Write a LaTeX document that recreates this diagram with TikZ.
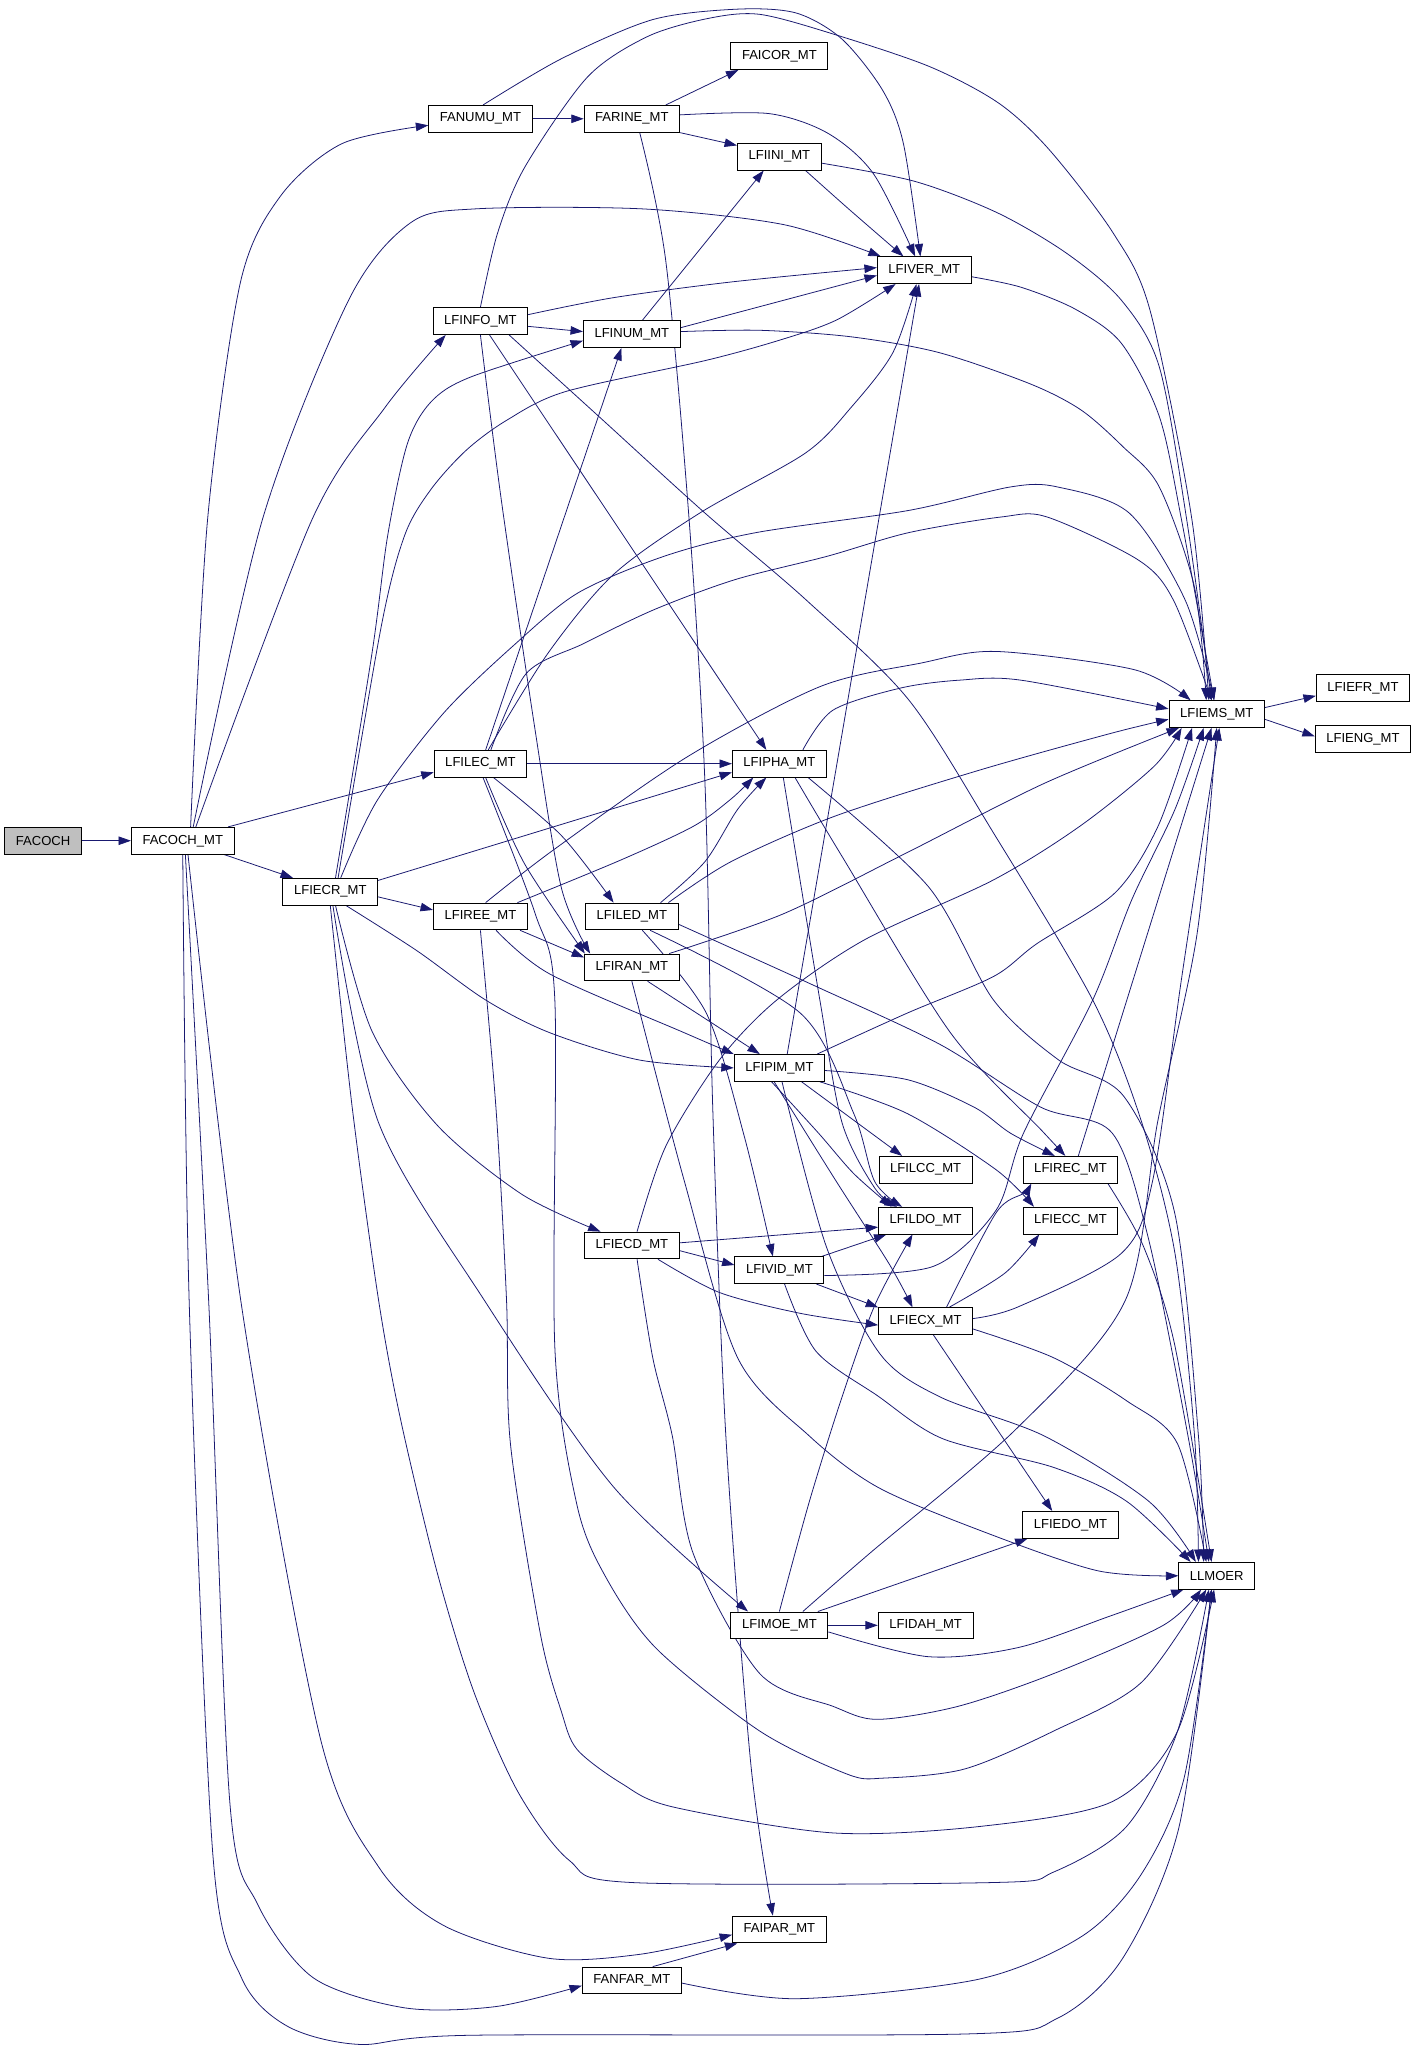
\documentclass[tikz,border=0pt]{standalone}
\usepackage{fontspec}
\setmainfont{Liberation Sans}
\usetikzlibrary{arrows.meta}
\definecolor{dblue}{RGB}{25,25,112}
\definecolor{gbox}{RGB}{191,191,191}
\pgfdeclarelayer{back}
\pgfdeclarelayer{bg}
\pgfsetlayers{back,bg,main}
\tikzset{
  box/.style={draw=black, fill=white, line width=0.7pt, minimum height=20.5pt, inner xsep=8.5pt, inner ysep=0pt, font=\fontsize{10}{12}\selectfont},
  edg/.style={draw=dblue, line width=0.6pt, -{Triangle[length=9.5pt,width=6.5pt]}},
}
\begin{document}
\begin{tikzpicture}[x=1pt,y=-1pt]
\begin{pgfonlayer}{back}
\fill[white] (0,0) rectangle (1087,1568);
\end{pgfonlayer}
\useasboundingbox (0,0) rectangle (1087,1568);
% nodes
\node[box,fill=gbox] (FACOCH) at (33,644) {FACOCH};
\node[box] (FACOCHMT) at (140,644) {FACOCH\_MT};
\node[box] (FANUMU) at (368,91) {FANUMU\_MT};
\node[box] (FARINE) at (484,91) {FARINE\_MT};
\node[box] (FAICOR) at (597,43) {FAICOR\_MT};
\node[box] (LFIINI) at (597,120) {LFIINI\_MT};
\node[box] (LFIVER) at (708,207) {LFIVER\_MT};
\node[box] (LFINFO) at (368,246) {LFINFO\_MT};
\node[box] (LFINUM) at (484,256) {LFINUM\_MT};
\node[box] (LFIEMS) at (932,547) {LFIEMS\_MT};
\node[box] (LFIEFR) at (1044,527) {LFIEFR\_MT};
\node[box] (LFIENG) at (1044,566) {LFIENG\_MT};
\node[box] (LFILEC) at (368,585) {LFILEC\_MT};
\node[box] (LFIPHA) at (597,585) {LFIPHA\_MT};
\node[box] (LFIECR) at (253,683) {LFIECR\_MT};
\node[box] (LFIREE) at (368,702) {LFIREE\_MT};
\node[box] (LFILED) at (484,702) {LFILED\_MT};
\node[box] (LFIRAN) at (484,741) {LFIRAN\_MT};
\node[box] (LFIPIM) at (597,818) {LFIPIM\_MT};
\node[box] (LFILCC) at (709,896) {LFILCC\_MT};
\node[box] (LFIREC) at (820,896) {LFIREC\_MT};
\node[box] (LFILDO) at (709,935) {LFILDO\_MT};
\node[box] (LFIECC) at (820,935) {LFIECC\_MT};
\node[box] (LFIECD) at (484,954) {LFIECD\_MT};
\node[box] (LFIVID) at (597,973) {LFIVID\_MT};
\node[box] (LFIECX) at (709,1012) {LFIECX\_MT};
\node[box] (LFIEDO) at (820,1168) {LFIEDO\_MT};
\node[box] (LLMOER) at (932,1207) {LLMOER};
\node[box] (LFIMOE) at (597,1245) {LFIMOE\_MT};
\node[box] (LFIDAH) at (709,1245) {LFIDAH\_MT};
\node[box] (FAIPAR) at (597,1478) {FAIPAR\_MT};
\node[box] (FANFAR) at (484,1517) {FANFAR\_MT};
\begin{pgfonlayer}{bg}
% FACOCH
\draw[edg] (FACOCH) -- (FACOCHMT);
% FACOCH_MT
\draw[edg] plot[smooth] coordinates {([xshift=6pt]FACOCHMT.north) (159,398) (184,217) (215,150) (262,110) ([yshift=-5pt]FANUMU.west)};
\draw[edg] plot[smooth] coordinates {([xshift=8pt]FACOCHMT.north) (201,398) (267,230) (314,171) (364,160) (492,160) (600,172) ([xshift=3pt]LFIVER.north west)};
\draw[edg] plot[smooth] coordinates {([xshift=10pt]FACOCHMT.north) (239,398) (295,312) ([xshift=10pt]LFINFO.south west)};
\draw[edg] ([xshift=-5pt]FACOCHMT.north east) -- ([yshift=4pt]LFILEC.south west);
\draw[edg] ([xshift=-8pt]FACOCHMT.south east) -- ([xshift=8pt]LFIECR.north west);
\draw[edg] plot[smooth] coordinates {(FACOCHMT.south) (145,1000) (163,1420) (185,1515) (220,1552) (275,1566) (360,1559) (740,1558) (810,1546) (860,1500) (903,1400) ([xshift=-4pt]LLMOER.south)};
\draw[edg] plot[smooth] coordinates {([xshift=2pt]FACOCHMT.south) (160,1000) (176,1380) (197,1458) (240,1515) (310,1538) (380,1537) ([yshift=-4pt]FANFAR.west)};
\draw[edg] plot[smooth] coordinates {([xshift=4pt]FACOCHMT.south) (185,1000) (245,1330) (290,1430) (340,1475) (420,1500) (490,1497) ([yshift=-4pt]FAIPAR.west)};
% FANUMU
\draw[edg] (FANUMU) -- (FARINE);
\draw[edg] plot[smooth] coordinates {([xshift=2pt]FANUMU.north) (430,45) (500,15) (565,7) (610,10) (645,30) (676,69) (692,110) ([xshift=-3pt]LFIVER.north)};
% LFINFO -> LFIEMS (over top)
\draw[edg] plot[smooth] coordinates {(LFINFO.north) (381,179) (402,128) (450,59) (496,28) (543,14) (582,11) (638,26) (712,51) (765,79) (804,115) (853,179) (881,238) (913,398) ([xshift=-6pt]LFIEMS.north)};
% FARINE
\draw[edg] ([xshift=26pt]FARINE.north) -- ([xshift=6pt]FAICOR.south west);
\draw[edg] (FARINE.south east) -- ([yshift=-2pt]LFIINI.north west);
\draw[edg] plot[smooth] coordinates {([yshift=3pt]FARINE.east) (589,87) (634,102) (669,133) ([xshift=-7pt]LFIVER.north)};
\draw[edg] plot[smooth] coordinates {([xshift=6pt]FARINE.south) (510,200) (528,400) (540,600) (546,850) (556,1100) (575,1350) ([xshift=-5pt]FAIPAR.north)};
% LFIINI
\draw[edg] plot[smooth] coordinates {([xshift=20pt]LFIINI.south) (650,160) ([xshift=-16pt]LFIVER.north)};
\draw[edg] plot[smooth] coordinates {([yshift=-5pt]LFIINI.east) (701,139) (764,163) (817,194) (859,230) (888,281) (909,398) ([xshift=-4pt]LFIEMS.north)};
% LFIVER
\draw[edg] plot[smooth] coordinates {([yshift=-5pt]LFIVER.east) (782,220) (824,237) (859,263) (888,319) (905,398) ([xshift=-2pt]LFIEMS.north)};
% LFINFO
\draw[edg] plot[smooth] coordinates {([yshift=5pt]LFINFO.east) (470,228) (560,216) ([yshift=2pt]LFIVER.west)};
\draw[edg] ([yshift=-4pt]LFINFO.east) -- ([yshift=2pt]LFINUM.west);
\draw[edg] ([xshift=7pt]LFINFO.south) -- ([xshift=-10pt]LFIPHA.north);
\draw[edg] plot[smooth] coordinates {([xshift=22pt]LFINFO.south) (462,322) (540,393) (618,460) (696,536) (761,638) (837,766) (874,858) (900,960) (915,1100) ([xshift=-14pt]LLMOER.north)};
\draw[edg] plot[smooth] coordinates {(LFINFO.south) (384,383) (410,560) (430,680) ([xshift=-32pt]LFIRAN.north)};
% LFINUM
\draw[edg] ([xshift=8pt]LFINUM.north) -- ([xshift=-12pt]LFIINI.south);
\draw[edg] ([yshift=5pt]LFINUM.east) -- ([yshift=-4pt]LFIVER.west);
\draw[edg] plot[smooth] coordinates {([yshift=2pt]LFINUM.east) (582,253) (652,258) (719,270) (789,294) (828,314) (860,342) (888,373) (915,450) ([xshift=-8pt]LFIEMS.north)};
% LFIECR
\draw[edg] plot[smooth] coordinates {([xshift=4pt]LFIECR.north) (285,500) (297,410) (312,340) (330,308) (360,289) ([yshift=-5pt]LFINUM.west)};
\draw[edg] plot[smooth] coordinates {([xshift=6pt]LFIECR.north) (292,480) (310,410) (330,375) (357,345) (388,322) (433,300) (541,276) (599,260) (641,245) ([xshift=-22pt]LFIVER.south)};
\draw[edg] ([yshift=-2pt]LFIECR.north east) -- ([yshift=4pt]LFIPHA.south west);
\draw[edg] ([yshift=-4pt]LFIECR.east) -- ([yshift=5pt]LFIREE.west);
\draw[edg] plot[smooth] coordinates {([xshift=12pt]LFIECR.south) (319,728) (372,766) (421,791) (490,812) (LFIPIM.west)};
\draw[edg] plot[smooth] coordinates {([xshift=4pt]LFIECR.south) (285,790) (335,862) (400,915) ([xshift=-24pt]LFIECD.north)};
\draw[edg] plot[smooth] coordinates {([xshift=2pt]LFIECR.south) (290,860) (371,996) (470,1139) ([xshift=-24pt]LFIMOE.north)};
\draw[edg] plot[smooth] coordinates {(LFIECR.south) (270,850) (290,996) (307,1088) (335,1205) (363,1296) (397,1373) (436,1425) (484,1442) (761,1442) (807,1434) (863,1399) (902,1326) ([xshift=-6pt]LLMOER.south)};
\draw[edg] plot[smooth] coordinates {([xshift=8pt]LFIECR.north) (289,613) (340,546) (395,493) (443,454) (509,426) (579,408) (696,391) (774,373) (810,373) (865,393) (908,460) ([xshift=-2pt]LFIEMS.north)};
% LFILEC
\draw[edg] ([xshift=4pt]LFILEC.north) -- ([xshift=-8pt]LFINUM.south);
\draw[edg] plot[smooth] coordinates {([xshift=6pt]LFILEC.north) (420,500) (470,440) (536,393) (617,347) (652,312) (684,270) ([xshift=-6pt]LFIVER.south)};
\draw[edg] plot[smooth] coordinates {([xshift=8pt]LFILEC.north) (403,516) (447,493) (501,467) (563,444) (634,426) (696,408) (767,396) (802,396) (872,429) (899,460) ([xshift=-4pt]LFIEMS.north)};
\draw[edg] (LFILEC) -- (LFIPHA);
\draw[edg] plot[smooth] coordinates {([xshift=10pt]LFILEC.south) (430,640) ([xshift=-14pt]LFILED.north)};
\draw[edg] plot[smooth] coordinates {([xshift=4pt]LFILEC.south) (402,662) ([xshift=-36pt]LFIRAN.north)};
\draw[edg] plot[smooth] coordinates {([xshift=2pt]LFILEC.south) (410,700) (425,766) (425,1032) (442,1153) (464,1208) (503,1263) (582,1326) (649,1359) (677,1362) (739,1355) (807,1326) (874,1289) ([xshift=-8pt]LLMOER.south)};
% LFIREE
\draw[edg] ([xshift=-6pt]LFIREE.south east) -- ([yshift=-3pt]LFIRAN.north west);
\draw[edg] plot[smooth] coordinates {([xshift=-8pt]LFIREE.north east) (475,659) (531,633) (560,612) ([xshift=-20pt]LFIPHA.south)};
\draw[edg] plot[smooth] coordinates {([xshift=4pt]LFIREE.north) (424,651) (526,580) (628,526) (705,508) (763,499) (869,513) ([xshift=-20pt]LFIEMS.north)};
\draw[edg] plot[smooth] coordinates {([xshift=12pt]LFIREE.south) (421,746) (524,791) (LFIPIM.north west)};
\draw[edg] plot[smooth] coordinates {(LFIREE.south) (380,850) (388,996) (391,1106) (414,1252) (430,1311) (442,1340) (476,1366) (515,1384) (638,1404) (751,1399) (852,1380) (902,1326) ([xshift=-2pt]LLMOER.south)};
% LFILED
\draw[edg] plot[smooth] coordinates {([xshift=22pt]LFILED.north) (540,660) (565,620) ([xshift=-10pt]LFIPHA.south)};
\draw[edg] plot[smooth] coordinates {([xshift=28pt]LFILED.north) (560,660) (640,625) (750,590) (850,562) ([yshift=-4pt]LFIEMS.west)};
\draw[edg] plot[smooth] coordinates {([xshift=14pt]LFILED.south) (613,776) (654,853) (670,905) ([xshift=-18pt]LFILDO.north)};
\draw[edg] plot[smooth] coordinates {([yshift=-6pt]LFILED.east) (626,756) (720,800) (797,848) (852,868) (880,950) (910,1100) ([xshift=-6pt]LLMOER.north)};
\draw[edg] plot[smooth] coordinates {([xshift=8pt]LFILED.south) (541,776) (570,870) ([xshift=-5pt]LFIVID.north)};
% LFIRAN
\draw[edg] ([xshift=12pt]LFIRAN.south) -- ([xshift=-15pt]LFIPIM.north);
\draw[edg] plot[smooth] coordinates {(LFIRAN.south) (524,904) (565,1040) (620,1100) (672,1139) (750,1172) (840,1203) (LLMOER.west)};
\draw[edg] plot[smooth] coordinates {([xshift=-8pt]LFIRAN.north east) (600,700) (695,653) (800,600) ([xshift=8pt]LFIEMS.south west)};
% LFIPHA
\draw[edg] plot[smooth] coordinates {([xshift=18pt]LFIPHA.north) (638,544) (690,527) (735,521) (782,521) ([yshift=4pt]LFIEMS.west)};
\draw[edg] plot[smooth] coordinates {([xshift=3pt]LFIPHA.south) (628,766) (645,860) (670,910) ([xshift=-22pt]LFILDO.north)};
\draw[edg] plot[smooth] coordinates {([xshift=12pt]LFIPHA.south) (645,656) (728,791) (798,866) ([xshift=-4pt]LFIREC.north)};
\draw[edg] plot[smooth] coordinates {([xshift=22pt]LFIPHA.south) (711,679) (761,766) (811,812) (861,840) (900,930) (918,1100) ([xshift=-10pt]LLMOER.north)};
% LFIPIM
\draw[edg] ([xshift=6pt]LFIPIM.north) -- ([xshift=-4pt]LFIVER.south);
\draw[edg] plot[smooth] coordinates {([xshift=-6pt]LFIPIM.north east) (695,776) (761,748) (794,723) (854,684) (887,633) ([xshift=18pt]LFIEMS.south west)};
\draw[edg] plot[smooth] coordinates {([yshift=-2pt]LFIPIM.east) (695,827) (746,848) (774,868) ([xshift=-12pt]LFIREC.north)};
\draw[edg] ([xshift=-18pt]LFIPIM.south east) -- ([xshift=-18pt]LFILCC.north);
\draw[edg] plot[smooth] coordinates {([xshift=-6pt]LFIPIM.south) (627,868) (654,899) ([xshift=-26pt]LFILDO.north)};
\draw[edg] plot[smooth] coordinates {([xshift=-4pt]LFIPIM.south) (640,904) (681,968) ([xshift=-10pt]LFIECX.north)};
\draw[edg] plot[smooth] coordinates {([xshift=-4pt]LFIPIM.south east) (695,853) (763,896) ([xshift=-28pt]LFIECC.north)};
\draw[edg] plot[smooth] coordinates {([xshift=2pt]LFIPIM.south) (633,955) (674,1037) (720,1070) (800,1100) (880,1150) ([xshift=-16pt]LLMOER.north)};
% LFIECD
\draw[edg] plot[smooth] coordinates {([xshift=4pt]LFIECD.north) (510,878) (551,812) (595,766) (662,720) (761,674) (827,633) (884,587) ([xshift=10pt]LFIEMS.south west)};
\draw[edg] ([yshift=2pt]LFIECD.east) -- ([yshift=-5pt]LFILDO.west);
\draw[edg] ([yshift=-4pt]LFIECD.east) -- ([yshift=4pt]LFIVID.west);
\draw[edg] plot[smooth] coordinates {([xshift=20pt]LFIECD.south) (551,990) (613,1006) ([yshift=-3pt]LFIECX.west)};
\draw[edg] plot[smooth] coordinates {([xshift=4pt]LFIECD.south) (500,1040) (515,1100) (531,1190) (582,1282) (638,1307) (672,1317) (734,1307) (807,1282) (891,1245) ([xshift=-12pt]LLMOER.south)};
% LFIVID
\draw[edg] ([xshift=-2pt]LFIVID.north east) -- ([xshift=-30pt]LFILDO.south);
\draw[edg] ([xshift=-6pt]LFIVID.south east) -- (LFIECX.north west);
\draw[edg] plot[smooth] coordinates {([yshift=-4pt]LFIVID.east) (715,970) (763,927) (784,868) (837,766) (867,689) (900,620) ([xshift=-10pt]LFIEMS.south)};
\draw[edg] plot[smooth] coordinates {([xshift=4pt]LFIVID.south) (625,1035) (672,1069) (722,1102) (807,1124) (863,1150) ([xshift=-20pt]LLMOER.north)};
% LFIECX
\draw[edg] plot[smooth] coordinates {([xshift=16pt]LFIECX.north) (763,929) (784,914) ([xshift=-30pt]LFIREC.south)};
\draw[edg] plot[smooth] coordinates {([xshift=18pt]LFIECX.north) (770,975) ([xshift=-24pt]LFIECC.south)};
\draw[edg] plot[smooth] coordinates {([yshift=2pt]LFIECX.east) (780,1001) (859,960) (883,904) (905,750) ([xshift=2pt]LFIEMS.south)};
\draw[edg] ([xshift=6pt]LFIECX.south) -- ([xshift=-14pt]LFIEDO.north);
\draw[edg] plot[smooth] coordinates {([yshift=-6pt]LFIECX.east) (807,1040) (863,1073) (902,1106) ([xshift=-8pt]LLMOER.north)};
% LFIREC
\draw[edg] ([xshift=6pt]LFIREC.north) -- ([xshift=-4pt]LFIEMS.south);
\draw[edg] plot[smooth] coordinates {([xshift=-8pt]LFIREC.south east) (876,955) (900,1031) ([xshift=-4pt]LLMOER.north)};
% LFIMOE
\draw[edg] plot[smooth] coordinates {(LFIMOE.north) (620,1150) (645,1070) (670,1000) ([xshift=-10pt]LFILDO.south)};
\draw[edg] plot[smooth] coordinates {([xshift=18pt]LFIMOE.north) (666,1190) (779,1094) (862,996) (887,858) (917,715) (LFIEMS.south)};
\draw[edg] ([xshift=-8pt]LFIMOE.north east) -- ([xshift=4pt]LFIEDO.south west);
\draw[edg] (LFIMOE) -- (LFIDAH);
\draw[edg] plot[smooth] coordinates {([yshift=-5pt]LFIMOE.east) (711,1269) (780,1262) (850,1238) ([xshift=4pt]LLMOER.south west)};
% FANFAR
\draw[edg] ([xshift=16pt]FANFAR.north) -- ([xshift=4pt]FAIPAR.south west);
\draw[edg] plot[smooth] coordinates {([yshift=-2pt]FANFAR.east) (610,1531) (750,1516) (829,1483) (874,1436) (907,1362) ([xshift=-4pt]LLMOER.south)};
% LFIEMS
\draw[edg] ([yshift=5pt]LFIEMS.east) -- ([yshift=-6pt]LFIEFR.west);
\draw[edg] ([yshift=-4pt]LFIEMS.east) -- ([yshift=2pt]LFIENG.west);
\end{pgfonlayer}
\end{tikzpicture}
\end{document}
